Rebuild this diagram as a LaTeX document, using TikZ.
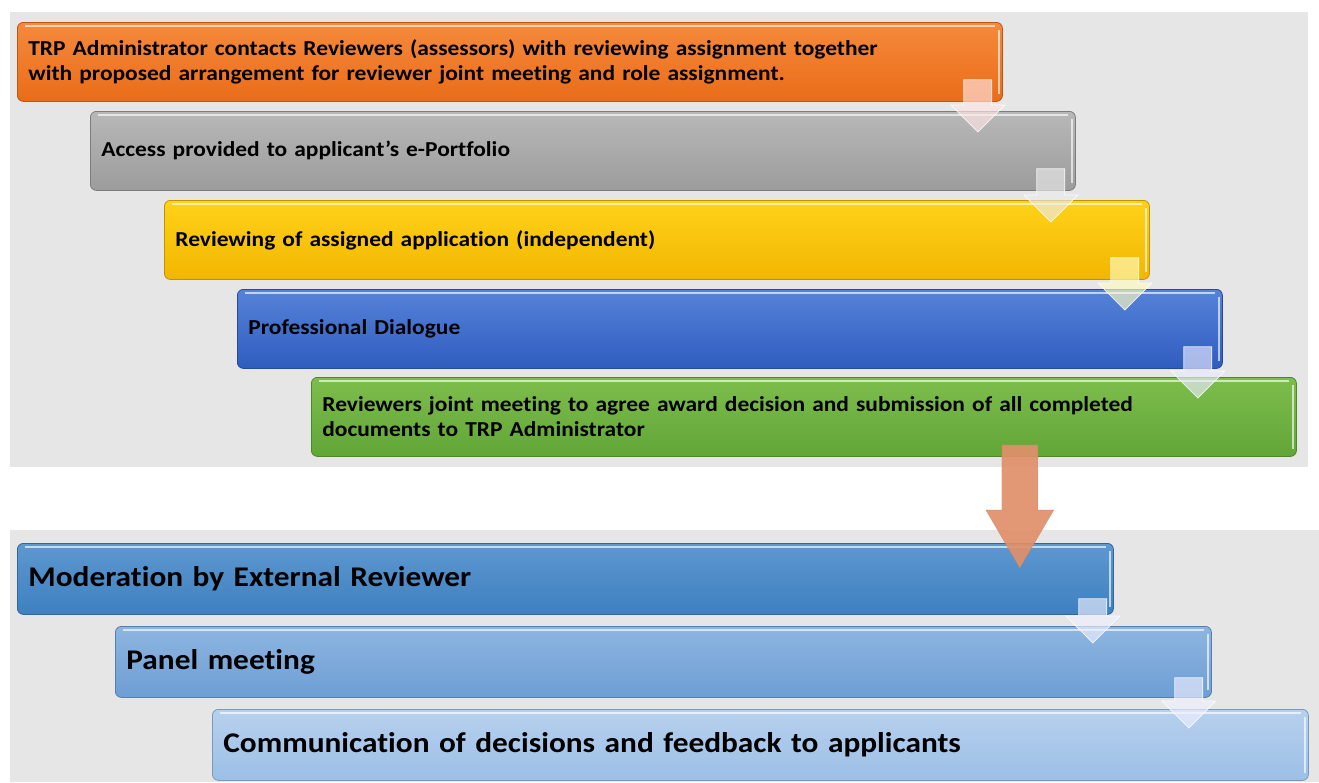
\documentclass[tikz,border=0pt]{standalone}
\usepackage{fontspec}
\setmainfont{Carlito}[Ligatures=NoCommon, FakeStretch=1.1]
\usetikzlibrary{calc}
\definecolor{bgpanel}{HTML}{E6E6E6}
\definecolor{cOrange}{HTML}{EA6C18}
\definecolor{cOrangeT}{HTML}{F58A3C}
\definecolor{cGray}{HTML}{9C9C9C}
\definecolor{cGrayT}{HTML}{B8B8B8}
\definecolor{cYellow}{HTML}{F2B600}
\definecolor{cYellowT}{HTML}{FFD21A}
\definecolor{cBlue}{HTML}{2F5DBF}
\definecolor{cBlueT}{HTML}{5682D8}
\definecolor{cGreen}{HTML}{62A638}
\definecolor{cGreenT}{HTML}{7DBD4C}
\definecolor{cBa}{HTML}{3D80C0}
\definecolor{cBaT}{HTML}{5E98D0}
\definecolor{cBb}{HTML}{6E9ED4}
\definecolor{cBbT}{HTML}{8DB5E0}
\definecolor{cBc}{HTML}{9CBFE6}
\definecolor{cBcT}{HTML}{B7D0EE}
\definecolor{bigArrow}{HTML}{E0906A}
\tikzset{
  stepbox/.style={rounded corners=6pt, minimum height=#1, anchor=north west, align=left, inner xsep=11pt, inner ysep=0pt},
  smallbox/.style={stepbox=79pt, font=\fontsize{21.3}{25}\selectfont\bfseries, text width=963pt, minimum width=985pt},
  bigbox/.style={stepbox=71pt, font=\fontsize{28.5}{33}\selectfont\bfseries, text width=1074pt, minimum width=1096pt},
  shade/.style 2 args={top color=#2, bottom color=#1, draw=#1!80!black, line width=0.8pt},
  glossline/.style={white, opacity=0.65, line width=2pt}
}
\newcommand{\flowarrow}[6]{% from, to, xoff, topinset, botinset, tint
  \path let \p1=(#1.south east), \p2=(#2.north) in
    coordinate (#1t) at (\x1-#3pt, \y1+#4pt)
    coordinate (#1b) at (\x1-#3pt, \y2-#5pt);
  \fill[#6, fill opacity=0.65] ([xshift=-14pt]#1t) -- ([xshift=14pt]#1t) -- ([xshift=14pt,yshift=27pt]#1b) -- ([xshift=27pt,yshift=27pt]#1b) -- (#1b) -- ([xshift=-27pt,yshift=27pt]#1b) -- ([xshift=-14pt,yshift=27pt]#1b) -- cycle;
  \draw[white, opacity=0.85, line width=0.7pt] ([xshift=-14pt]#1t) -- ([xshift=14pt]#1t) -- ([xshift=14pt,yshift=27pt]#1b) -- ([xshift=27pt,yshift=27pt]#1b) -- (#1b) -- ([xshift=-27pt,yshift=27pt]#1b) -- ([xshift=-14pt,yshift=27pt]#1b) -- cycle;
}
\begin{document}
\begin{tikzpicture}[x=1pt,y=-1pt]
\useasboundingbox (0,0) rectangle (1319,782);
\fill[white] (0,0) rectangle (1319,782);
\fill[bgpanel] (10,12) rectangle (1308,467);
\fill[bgpanel] (10,530) rectangle (1319,782);

\node[smallbox, shade={cOrange}{cOrangeT}] (b1) at (17,22) {TRP Administrator contacts Reviewers (assessors) with reviewing assignment together\\with proposed arrangement for reviewer joint meeting and role assignment.};
\node[smallbox, shade={cGray}{cGrayT}] (b2) at (90,111) {Access provided to applicant’s e-Portfolio};
\node[smallbox, shade={cYellow}{cYellowT}] (b3) at (164,200) {Reviewing of assigned application (independent)};
\node[smallbox, shade={cBlue}{cBlueT}] (b4) at (237,289) {Professional Dialogue};
\node[smallbox, shade={cGreen}{cGreenT}] (b5) at (311,377) {Reviewers joint meeting to agree award decision and submission of all completed\\documents to TRP Administrator};

\node[bigbox, shade={cBa}{cBaT}] (c1) at (17,543) {Moderation by External Reviewer};
\node[bigbox, shade={cBb}{cBbT}] (c2) at (115,626) {Panel meeting};
\node[bigbox, shade={cBc}{cBcT}] (c3) at (212,709) {Communication of decisions and feedback to applicants};

% glossy highlight lines
\foreach \n in {b1,b2,b3,b4,b5,c1,c2,c3}{
  \draw[glossline] ([xshift=8pt,yshift=-4pt]\n.north west) -- ([xshift=-8pt,yshift=-4pt]\n.north east);
  \draw[glossline] ([xshift=-4pt,yshift=-8pt]\n.north east) -- ([xshift=-4pt,yshift=8pt]\n.south east);
}

% small block arrows between consecutive boxes
\flowarrow{b1}{b2}{25}{22}{21}{red!10!white}
\flowarrow{b2}{b3}{25}{22}{22}{white!92!black}
\flowarrow{b3}{b4}{25}{22}{21}{yellow!25!white}
\flowarrow{b4}{b5}{25}{22}{21}{blue!8!white}
\flowarrow{c1}{c2}{21}{16}{17}{blue!6!white}
\flowarrow{c2}{c3}{23}{20}{19}{blue!6!white}

% big arrow from the first group to the second
\path let \p1=(b5.south east), \p2=(c1.north) in
  coordinate (Bt) at (\x1-277pt, \y1+12pt)
  coordinate (Bb) at (\x1-277pt, \y2-25pt);
\fill[bigArrow, fill opacity=0.92] ([xshift=-18pt]Bt) -- ([xshift=18pt]Bt) -- ([xshift=18pt,yshift=58pt]Bb) -- ([xshift=34pt,yshift=58pt]Bb) -- (Bb) -- ([xshift=-34pt,yshift=58pt]Bb) -- ([xshift=-18pt,yshift=58pt]Bb) -- cycle;
\draw[bigArrow!85!black, opacity=0.35, line width=0.6pt] ([xshift=-18pt]Bt) -- ([xshift=18pt]Bt) -- ([xshift=18pt,yshift=58pt]Bb) -- ([xshift=34pt,yshift=58pt]Bb) -- (Bb) -- ([xshift=-34pt,yshift=58pt]Bb) -- ([xshift=-18pt,yshift=58pt]Bb) -- cycle;
\end{tikzpicture}
\end{document}
